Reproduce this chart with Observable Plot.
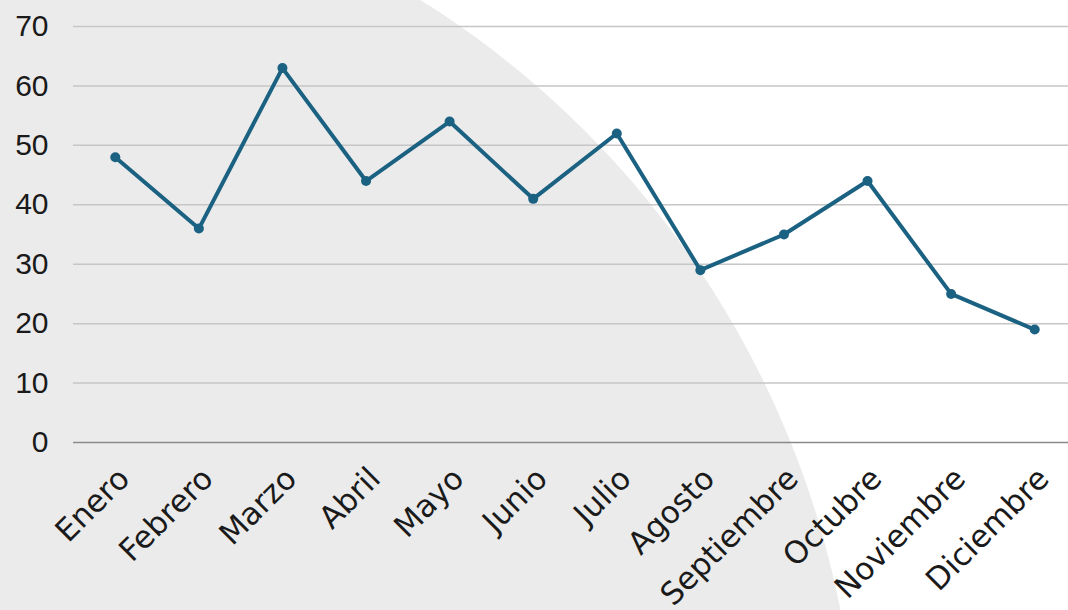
<!DOCTYPE html>
<html><head><meta charset="utf-8">
<script src="https://cdn.jsdelivr.net/npm/d3@7"></script>
<script src="https://cdn.jsdelivr.net/npm/@observablehq/plot@0.6"></script>
<style>
html,body{margin:0;padding:0;background:#fff;overflow:hidden;width:1068px;height:610px;position:relative;}
#bg{position:absolute;left:-1006px;top:-142px;width:1864px;height:1864px;border-radius:50%;background:#ebebeb;}
#chart{position:absolute;left:0;top:0;}
</style></head><body>
<div id="bg"></div><div id="chart"></div>
<script>
const months = ["Enero","Febrero","Marzo","Abril","Mayo","Junio","Julio","Agosto","Septiembre","Octubre","Noviembre","Diciembre"];
const values = [48,36,63,44,54,41,52,29,35,44,25,19];
const yTicks = [0,10,20,30,40,50,60,70];
const data = months.map((m,i)=>({month:m, value:values[i]}));
const lineColor = "#1b6182";
const chart = Plot.plot({
  width:1076, height:650,
  marginLeft:73, marginRight:0, marginTop:26, marginBottom:208,
  style:{background:"transparent", overflow:"visible", maxWidth:"none"},
  x:{type:"band", domain:months, padding:0, round:false, label:null},
  y:{domain:[0,70], label:null},
  marks:[
    Plot.ruleY(yTicks.filter(t=>t>0), {stroke:"#c6c6c6", strokeWidth:1.5, strokeOpacity:1}),
    Plot.ruleY([0], {stroke:"#8a8a8a", strokeWidth:1.5}),
    Plot.axisY(yTicks, {tickSize:0, tickPadding:25, fontSize:30, fontFamily:"Liberation Sans, Arial, sans-serif", fill:"#1a1a1a", label:null}),
    Plot.axisX({tickSize:0, tickPadding:31, tickRotate:-45, dx:9, fontSize:31, fontFamily:"'DejaVu Sans', sans-serif", fill:"#1a1a1a", label:null}),
    Plot.line(data, {x:"month", y:"value", stroke:lineColor, strokeWidth:4}),
    Plot.dot(data, {x:"month", y:"value", r:5, fill:lineColor, stroke:"none"})
  ]
});
document.getElementById("chart").appendChild(chart);
</script>
</body></html>
